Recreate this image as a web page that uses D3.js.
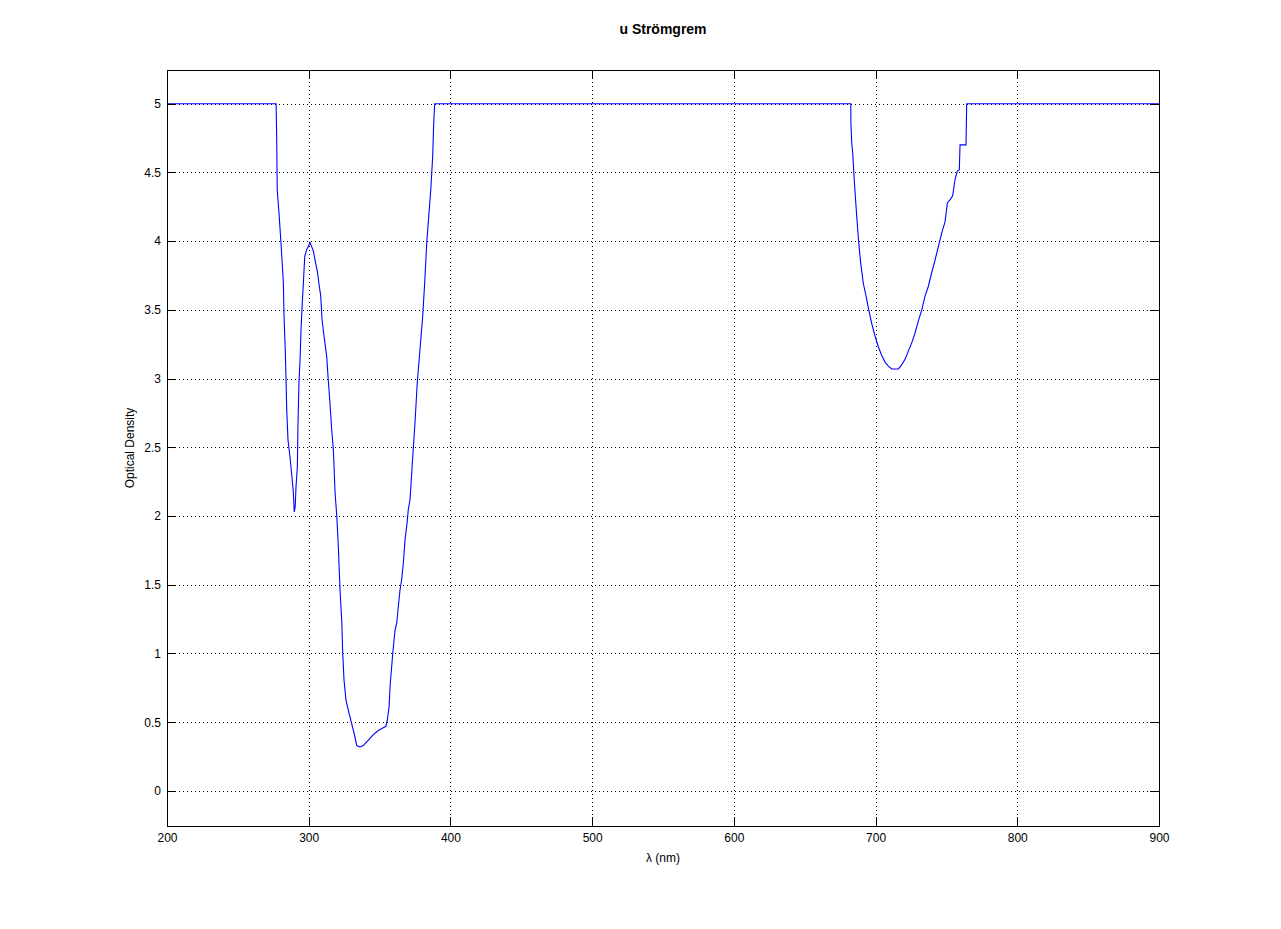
<!DOCTYPE html>
<html>
<head>
<meta charset="utf-8">
<script src="https://cdn.jsdelivr.net/npm/d3@7"></script>
<style>
  html, body { margin: 0; padding: 0; background: #fff; }
  svg { display: block; font-family: "Liberation Sans", Arial, sans-serif; }
</style>
</head>
<body>
<svg id="chart" width="1281" height="929"></svg>
<script>
// ---- data ----
const title = "u Strömgrem";
const xLabel = "λ (nm)";
const yLabel = "Optical Density";
const xTicks = [200, 300, 400, 500, 600, 700, 800, 900];
const yTicks = [0, 0.5, 1, 1.5, 2, 2.5, 3, 3.5, 4, 4.5, 5];

const wavelength = [
  200, 277, 277.4, 277.8, 279.2, 280.4, 282.1, 282.6, 283.5, 284.0, 284.5, 285.4, 286.8, 288.2, 289.1, 289.8,
  290.5, 291, 292, 292.4, 293.1, 293.9, 294.6, 295.3, 296.2, 297.2, 298.6, 299.7, 300.9,
  302.1, 303.2, 304.9, 306.1, 307.5, 308.5, 309.4, 310.8, 312.7, 313.8, 315, 316.2, 317.4, 318.6, 319.8,
  320.9, 322.1, 323.3, 324.0, 324.9, 326.3, 327.9, 330.3, 332.0, 333.9, 336.2, 338.5, 342.1, 345.6, 349.1,
  352.6, 354.5, 355.5, 356.7, 357.4, 359.3, 360.9, 362.1, 363.2, 364.4, 365.6, 366.8, 368.0, 369.4, 370.3,
  371.5, 373.4, 375.0, 376.6, 378.5, 380.4, 381.8, 383.3, 384.7, 386.1, 387.5, 388.2, 388.9,
  682.5, 682.6, 683.2, 683.9, 684.8, 685.7, 686.7, 688.1, 689.5, 691.4, 693.3, 695.2, 697.3, 699.6, 702.0,
  704.3, 706.7, 709.0, 711.4, 716.1, 718.4, 720.8, 723.1, 725.5, 727.8, 730.2, 732.6, 734.9, 737.2, 739.6,
  741.9, 744.3, 746.7, 749.0, 750.7, 752.5, 754.4, 756.1, 757.7, 759.1, 759.6, 763.8, 764.3, 900
];
const density = [
  5, 5, 4.75, 4.37, 4.18, 3.99, 3.70, 3.45, 3.19, 2.99, 2.77, 2.55, 2.43, 2.28, 2.18, 2.03,
  2.07, 2.21, 2.36, 2.65, 2.97, 3.14, 3.36, 3.52, 3.69, 3.89, 3.94, 3.96, 3.99,
  3.96, 3.93, 3.84, 3.78, 3.67, 3.60, 3.43, 3.31, 3.16, 2.99, 2.82, 2.63, 2.48, 2.17, 2.00,
  1.78, 1.46, 1.24, 1.00, 0.81, 0.66, 0.59, 0.49, 0.42, 0.33, 0.32, 0.33, 0.37, 0.41, 0.44,
  0.46, 0.47, 0.52, 0.61, 0.76, 1.00, 1.17, 1.22, 1.34, 1.46, 1.54, 1.66, 1.83, 1.95, 2.05,
  2.12, 2.43, 2.68, 2.97, 3.21, 3.45, 3.69, 3.99, 4.18, 4.37, 4.62, 4.86, 5,
  5, 4.86, 4.71, 4.64, 4.47, 4.33, 4.18, 3.99, 3.84, 3.69, 3.60, 3.50, 3.40, 3.31, 3.23,
  3.17, 3.12, 3.09, 3.07, 3.07, 3.10, 3.14, 3.20, 3.26, 3.33, 3.42, 3.50, 3.60, 3.67, 3.77,
  3.86, 3.96, 4.06, 4.14, 4.28, 4.30, 4.33, 4.45, 4.51, 4.52, 4.70, 4.70, 5, 5
];

// ---- layout ----
const svg = d3.select("#chart");
const margin = { left: 167, top: 70, right: 1281 - 1159, bottom: 929 - 826 };
const W = 1159 - 167, H = 826 - 70;

const x = d3.scaleLinear().domain([200, 900]).range([margin.left, margin.left + W]);
const y = d3.scaleLinear().domain([-0.255, 5.245]).range([margin.top + H, margin.top]);

svg.append("rect").attr("x", margin.left).attr("y", margin.top)
  .attr("width", W).attr("height", H).attr("fill", "#fff");

// grid
const grid = svg.append("g").attr("stroke", "#000").attr("stroke-width", 1)
  .attr("stroke-dasharray", "1,3").attr("shape-rendering", "crispEdges");
grid.selectAll(".gx").data(xTicks.slice(1, -1)).join("line")
  .attr("x1", d => Math.round(x(d)) + 0.5).attr("x2", d => Math.round(x(d)) + 0.5)
  .attr("y1", margin.top).attr("y2", margin.top + H);
grid.selectAll(".gy").data(yTicks).join("line")
  .attr("y1", d => Math.round(y(d)) + 0.5).attr("y2", d => Math.round(y(d)) + 0.5)
  .attr("x1", margin.left).attr("x2", margin.left + W);

// curve
const line = d3.line().x((d, i) => x(wavelength[i])).y(d => y(d));
svg.append("path").datum(density)
  .attr("d", line).attr("fill", "none").attr("stroke", "#0000ff").attr("stroke-width", 1.1);

// axes (inward ticks)
const tickLen = 9;
const fontSize = 12;
function styleAxis(g) {
  g.selectAll("path.domain").remove();
  g.selectAll("line").attr("stroke", "#000").attr("shape-rendering", "crispEdges");
  g.selectAll("text").attr("font-size", fontSize).attr("fill", "#000")
    .attr("font-family", "'Liberation Sans', Arial, sans-serif");
}
svg.append("g").attr("transform", `translate(0,${margin.top + H})`)
  .call(d3.axisBottom(x).tickValues(xTicks).tickSizeInner(-tickLen).tickSizeOuter(0)
    .tickPadding(7).tickFormat(d3.format("d")))
  .call(styleAxis);
svg.append("g").attr("transform", `translate(0,${margin.top})`)
  .call(d3.axisTop(x).tickValues(xTicks).tickSizeInner(-tickLen).tickSizeOuter(0).tickFormat(""))
  .call(styleAxis);
svg.append("g").attr("transform", `translate(${margin.left},0)`)
  .call(d3.axisLeft(y).tickValues(yTicks).tickSizeInner(-tickLen).tickSizeOuter(0)
    .tickPadding(6).tickFormat(d => String(d)))
  .call(styleAxis);
svg.append("g").attr("transform", `translate(${margin.left + W},0)`)
  .call(d3.axisRight(y).tickValues(yTicks).tickSizeInner(-tickLen).tickSizeOuter(0).tickFormat(""))
  .call(styleAxis);

// frame
svg.append("rect").attr("x", margin.left + 0.5).attr("y", margin.top + 0.5)
  .attr("width", W).attr("height", H).attr("fill", "none").attr("stroke", "#000")
  .attr("shape-rendering", "crispEdges");

// labels
svg.append("text").attr("x", margin.left + W / 2).attr("y", 34)
  .attr("text-anchor", "middle").attr("font-size", 14).attr("font-weight", "bold").text(title);
svg.append("text").attr("x", margin.left + W / 2).attr("y", 862)
  .attr("text-anchor", "middle").attr("font-size", 12).text(xLabel);
svg.append("text").attr("transform", `translate(134,${margin.top + H / 2}) rotate(-90)`)
  .attr("text-anchor", "middle").attr("font-size", 12).text(yLabel);
</script>
</body>
</html>
